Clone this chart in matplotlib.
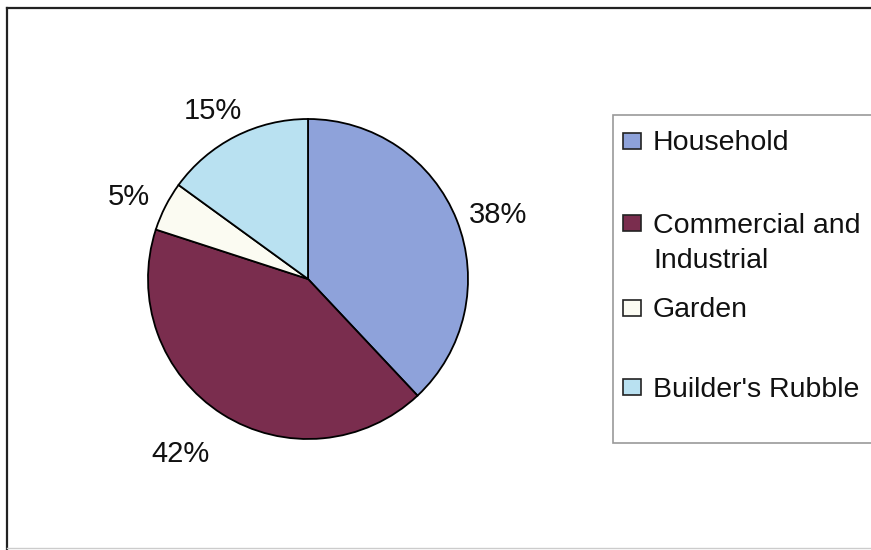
import matplotlib.pyplot as plt
from matplotlib.patches import Rectangle
from matplotlib.lines import Line2D

plt.rcParams["font.family"] = ["Liberation Sans", "DejaVu Sans"]

# Waste composition by source
categories = ["Household", "Commercial and\nIndustrial", "Garden", "Builder's Rubble"]
shares = [38, 42, 5, 15]
colors = ["#8ea2da", "#7a2d4e", "#fbfbf2", "#b9e1f1"]

W, H = 871, 550
fig = plt.figure(figsize=(W / 100, H / 100), dpi=100)


def px(x, y):
    """Pixel position (from top-left) to figure fraction."""
    return x / W, 1 - y / H


# pie area: centre (308, 279), radius 160 px
cx, cy, r = 308, 279, 160
ax = fig.add_axes([(cx - r) / W, 1 - (cy + r) / H, 2 * r / W, 2 * r / H])
wedges, texts = ax.pie(
    shares,
    colors=colors,
    startangle=90,
    counterclock=False,
    labels=[f"{s}%" for s in shares],
    labeldistance=1.25,
    wedgeprops=dict(edgecolor="black", linewidth=1.3),
    textprops=dict(fontsize=21, color="#111111"),
)
# nudge labels the way the spreadsheet places them (pixel offsets)
nudges = [(4, 10), (-20, 6), (-1, 9), (-4, 10)]
for t, (dx, dy) in zip(texts, nudges):
    x, y = t.get_position()
    t.set_position((x + dx / r, y - dy / r))
    t.set_ha("center")
    t.set_va("center")
ax.set_xlim(-1, 1)
ax.set_ylim(-1, 1)
ax.set_aspect("equal")
ax.axis("off")

# chart area border (only left, top and faint bottom edges show)
fig.add_artist(Line2D([7 / W, 7 / W], [1 - 8 / H, 0], color="#222222", lw=1.6))
fig.add_artist(Line2D([7 / W, 1], [1 - 8 / H, 1 - 8 / H], color="#222222", lw=1.6))
fig.add_artist(Line2D([7 / W, 1], [1 - 548 / H, 1 - 548 / H], color="#cccccc", lw=1.0))

# legend box
x0, y0 = px(613, 443)
fig.add_artist(Rectangle((x0, y0), 1.0 - x0 + 0.01, (443 - 115) / H,
                         facecolor="white", edgecolor="#999999", lw=1.2))

marker_tops = [133, 215, 300, 379]
baselines = [150, 233, 317, 397]
line_gap = 35
for cat, col, mt, base in zip(categories, colors, marker_tops, baselines):
    mx, my = px(623, mt + 16)
    fig.add_artist(Rectangle((mx, my), 18 / W, 16 / H, facecolor=col,
                             edgecolor="#222222", lw=1.2))
    for i, line in enumerate(cat.split("\n")):
        tx, ty = px(653, base + i * line_gap)
        fig.text(tx, ty, line, fontsize=20.5, color="#111111", va="baseline", ha="left")

fig.savefig("out.png", dpi=100)
